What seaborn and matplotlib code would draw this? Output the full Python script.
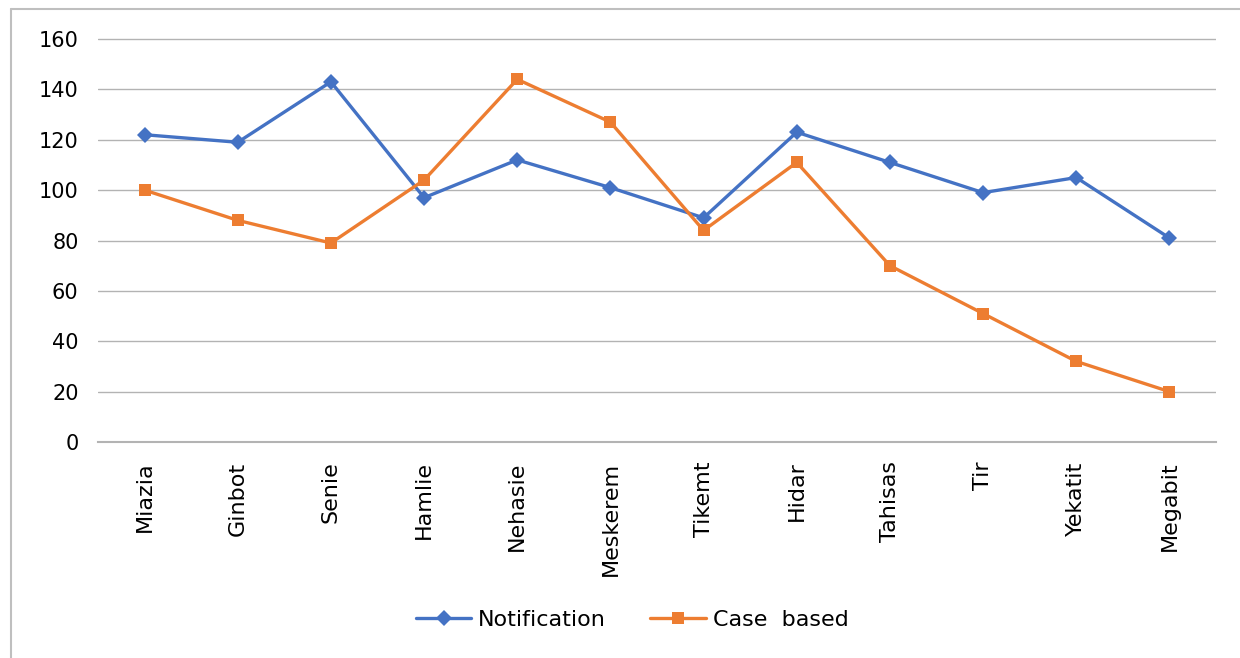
import numpy as np
import pandas as pd
import matplotlib
matplotlib.use("Agg")
import matplotlib.pyplot as plt
import seaborn as sns
from matplotlib.lines import Line2D

# Months (Ethiopian calendar) and counts
months = ["Miazia", "Ginbot", "Senie", "Hamlie", "Nehasie", "Meskerem",
          "Tikemt", "Hidar", "Tahisas", "Tir", "Yekatit", "Megabit"]
notification = [122, 119, 143, 97, 112, 101, 89, 123, 111, 99, 105, 81]
case_based = [100, 88, 79, 104, 144, 127, 84, 111, 70, 51, 32, 20]

df = pd.DataFrame({"month": months + months,
                   "value": notification + case_based,
                   "series": ["Notification"] * 12 + ["Case  based"] * 12})

sns.set_style("white")
plt.rcParams['font.family'] = ['DejaVu Sans']

fig = plt.figure(figsize=(12.4, 6.58), dpi=100)
ax = fig.add_axes([98 / 1240, 1 - 442 / 658, (1216 - 98) / 1240, (442 - 38) / 658])

palette = {"Notification": "#4472C4", "Case  based": "#ED7D31"}
sns.lineplot(data=df, x="month", y="value", hue="series", style="series",
             markers={"Notification": "D", "Case  based": "s"}, dashes=False,
             palette=palette, linewidth=2.4, markersize=8.5, markeredgewidth=0,
             sort=False, ax=ax)

ax.set_xlim(-0.5, len(months) - 0.5)
ax.set_ylim(0, 160.4)
ax.set_yticks(np.arange(0, 161, 20))
ax.yaxis.grid(True, color="#B3B3B3", linewidth=1.0)
ax.set_axisbelow(True)
for s in ["top", "right", "left"]:
    ax.spines[s].set_visible(False)
ax.spines["bottom"].set_color("#B3B3B3")
ax.spines["bottom"].set_linewidth(1.5)
ax.tick_params(axis="y", length=0, labelsize=15, colors="black", pad=14)
ax.tick_params(axis="x", length=0, labelsize=16, colors="black", pad=14)
plt.setp(ax.get_xticklabels(), rotation=90)
ax.set_xlabel("")
ax.set_ylabel("")

handles, labels = ax.get_legend_handles_labels()
leg = ax.legend(handles, labels, loc="center", bbox_to_anchor=(632 / 1240, 1 - 620 / 658),
                bbox_transform=fig.transFigure, ncol=2, frameon=False, fontsize=16,
                handlelength=2.5, columnspacing=2.0, handletextpad=0.3)
for t in leg.get_texts():
    t.set_color("black")

# chart frame (left and top edges only visible)
fig.add_artist(Line2D([11 / 1240, 11 / 1240], [0, 1 - 9 / 658], transform=fig.transFigure,
                      color="#BFBFBF", linewidth=1.5))
fig.add_artist(Line2D([11 / 1240, 1], [1 - 9 / 658, 1 - 9 / 658], transform=fig.transFigure,
                      color="#BFBFBF", linewidth=1.5))

fig.savefig("out.png", dpi=100)
